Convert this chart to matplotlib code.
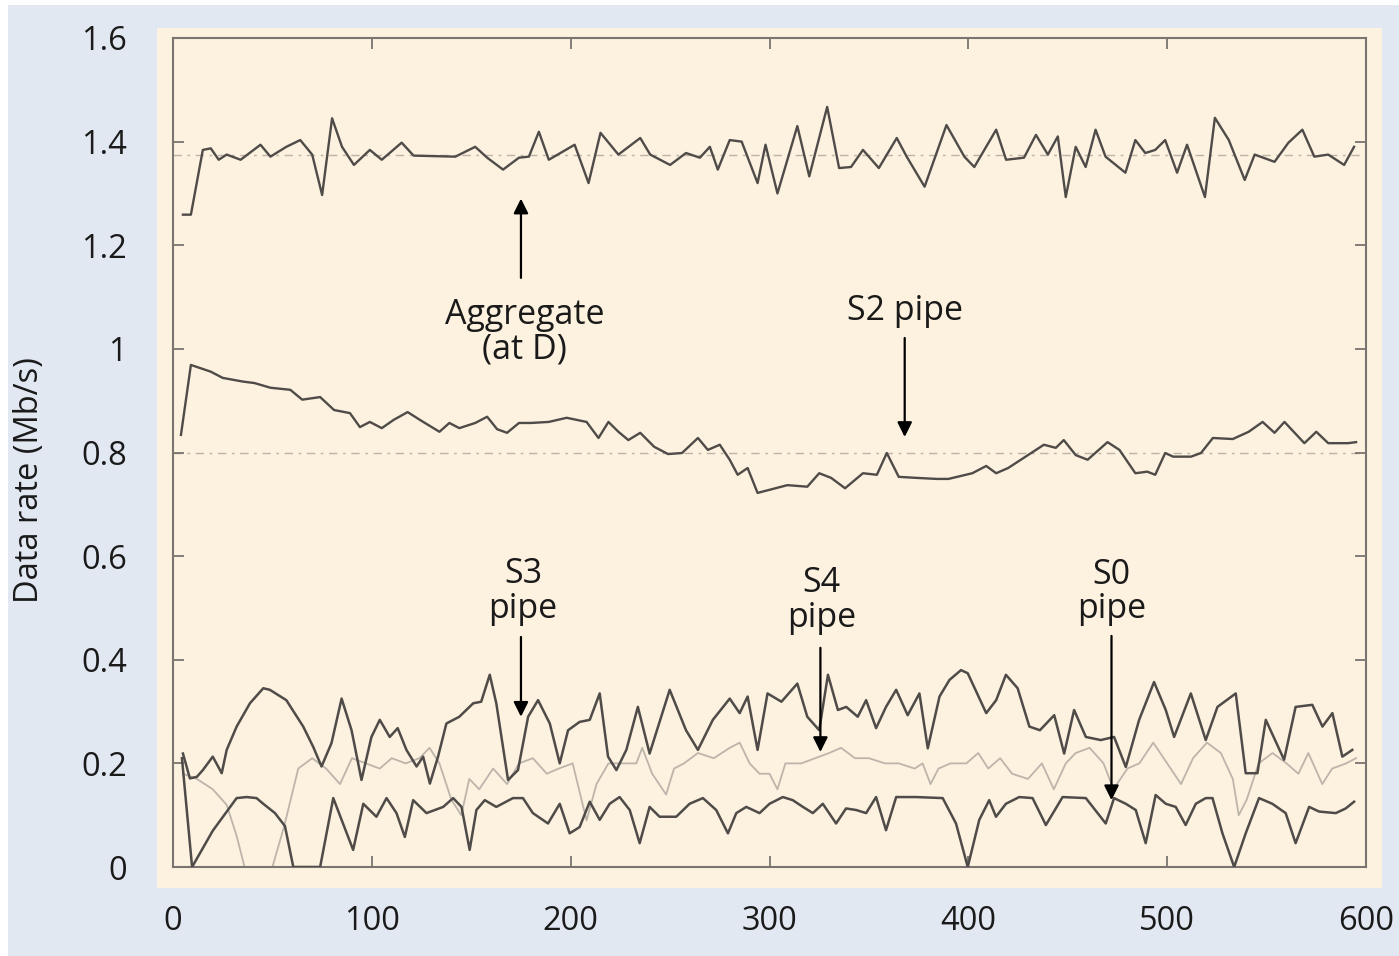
import matplotlib
matplotlib.use("Agg")
import matplotlib.pyplot as plt
from matplotlib.patches import Rectangle

# data
agg_x = [5, 9, 15, 19, 23, 27, 34, 44, 49, 57, 64, 70, 75, 80, 85, 91, 99, 105, 115, 121,
         142, 152, 158, 166, 174, 179, 184, 189, 202, 209, 215, 224, 235, 240, 250, 258,
         265, 270, 274, 280, 286, 294, 298, 304, 314, 320, 329, 335, 341, 347, 355, 364,
         369, 378, 389, 398, 403, 414, 419, 428, 434, 440, 445, 449, 454, 459, 464, 469,
         479, 484, 489, 494, 499, 505, 510, 519, 524, 531, 539, 544, 554, 561, 568, 574,
         581, 589, 594]
agg_y = [1.259, 1.259, 1.384, 1.387, 1.365, 1.375, 1.365, 1.394, 1.371, 1.39, 1.403, 1.375,
         1.297, 1.445, 1.39, 1.355, 1.384, 1.365, 1.398, 1.373, 1.371, 1.39, 1.369, 1.346,
         1.369, 1.371, 1.419, 1.365, 1.394, 1.32, 1.417, 1.375, 1.407, 1.375, 1.355, 1.378,
         1.369, 1.39, 1.346, 1.403, 1.40, 1.32, 1.394, 1.30, 1.43, 1.333, 1.467, 1.349,
         1.351, 1.384, 1.349, 1.407, 1.371, 1.313, 1.432, 1.371, 1.351, 1.423, 1.365, 1.369,
         1.413, 1.375, 1.41, 1.293, 1.39, 1.351, 1.423, 1.371, 1.34, 1.403, 1.378, 1.384,
         1.403, 1.34, 1.394, 1.293, 1.446, 1.403, 1.326, 1.375, 1.361, 1.398, 1.423, 1.371,
         1.375, 1.355, 1.39]

s2_x = [4, 9, 19, 25, 35, 41, 49, 59, 65, 74, 81, 89, 94, 99, 105, 111, 118, 125, 134, 139,
        144, 152, 158, 163, 168, 174, 180, 189, 198, 208, 214, 219, 224, 229, 235, 242, 249,
        256, 264, 269, 275, 280, 284, 289, 294, 303, 309, 319, 325, 331, 338, 347, 354, 359,
        365, 374, 384, 390, 402, 409, 414, 420, 430, 438, 444, 448, 454, 460, 470, 476, 484,
        490, 494, 499, 503, 512, 517, 523, 533, 541, 548, 554, 559, 569, 575, 581, 591, 595]
s2_y = [0.834, 0.969, 0.956, 0.944, 0.937, 0.934, 0.925, 0.921, 0.902, 0.907, 0.882, 0.876,
        0.849, 0.859, 0.847, 0.863, 0.878, 0.861, 0.840, 0.857, 0.847, 0.857, 0.869, 0.845,
        0.838, 0.857, 0.857, 0.859, 0.867, 0.859, 0.828, 0.859, 0.840, 0.824, 0.838, 0.811,
        0.797, 0.799, 0.828, 0.805, 0.815, 0.786, 0.757, 0.770, 0.722, 0.731, 0.737, 0.734,
        0.760, 0.751, 0.731, 0.760, 0.757, 0.799, 0.753, 0.751, 0.749, 0.749, 0.760, 0.774,
        0.760, 0.770, 0.795, 0.815, 0.809, 0.824, 0.795, 0.786, 0.820, 0.805, 0.760, 0.763,
        0.757, 0.799, 0.792, 0.792, 0.799, 0.828, 0.826, 0.840, 0.859, 0.838, 0.859, 0.818,
        0.840, 0.818, 0.818, 0.82]

s3_x = [5, 8.5, 12, 15, 20, 24.5, 27, 32, 38.7, 45.4, 48.7, 57, 65.5, 70.5, 74.7, 79.7, 84.8,
        89.8, 94.8, 99.8, 104, 109, 113, 117.4, 122.5, 125.8, 129.2, 133.3, 137.5, 144, 151,
        155, 159.3, 162.6, 168.5, 173.5, 178.6, 183.6, 189.5, 194.5, 198.7, 204.5, 209.6,
        214.6, 218.8, 223, 228, 233.8, 239.7, 249.8, 258, 264, 271.5, 280, 285, 289, 294,
        299, 306, 314, 319, 325, 329.4, 334.4, 338.6, 344.4, 348.6, 353.6, 358.6, 363.7,
        369.5, 375.4, 379.6, 385.5, 390.5, 396.3, 399.7, 409, 414, 418.9, 424.8, 430.7, 436,
        443.2, 448.2, 453.2, 459.1, 466.6, 473.3, 479.2, 485.9, 493.4, 499.3, 503.5, 511.9,
        519.4, 525.3, 534.5, 539.5, 545.4, 549.6, 558.8, 564.6, 573, 578.1, 583.1, 588.1, 593.1]
s3_y = [0.219, 0.171, 0.174, 0.187, 0.213, 0.181, 0.226, 0.271, 0.316, 0.345, 0.342, 0.322,
        0.271, 0.232, 0.194, 0.239, 0.325, 0.264, 0.168, 0.251, 0.284, 0.251, 0.268, 0.226,
        0.194, 0.213, 0.161, 0.213, 0.277, 0.290, 0.316, 0.319, 0.371, 0.316, 0.168, 0.187,
        0.290, 0.322, 0.277, 0.2, 0.264, 0.280, 0.284, 0.335, 0.213, 0.187, 0.226, 0.309,
        0.219, 0.342, 0.264, 0.226, 0.284, 0.325, 0.297, 0.329, 0.226, 0.335, 0.319, 0.354,
        0.290, 0.264, 0.371, 0.303, 0.309, 0.290, 0.322, 0.268, 0.309, 0.342, 0.293, 0.335,
        0.229, 0.329, 0.361, 0.380, 0.374, 0.297, 0.322, 0.371, 0.345, 0.271, 0.264, 0.293,
        0.219, 0.303, 0.251, 0.245, 0.251, 0.193, 0.284, 0.357, 0.303, 0.251, 0.335, 0.245,
        0.309, 0.335, 0.181, 0.181, 0.284, 0.207, 0.309, 0.313, 0.271, 0.297, 0.213, 0.226]

s0_x = [4.5, 9.6, 20, 32, 37, 42, 45.4, 51.3, 56.3, 60.5, 74, 80.6, 90.6, 95.7, 102.3, 107.4,
        112.4, 116.6, 120.8, 127.5, 135.9, 140.9, 145.1, 149.2, 152.6, 156.8, 162.6, 171, 176,
        181, 188.6, 194.5, 199.5, 204.5, 209.6, 214.6, 219.6, 224.6, 229.7, 234.7, 239.7,
        244.7, 253.1, 259.8, 266.5, 273.2, 279.1, 283.3, 288.3, 295, 300, 306.7, 311.7, 316.8,
        321.8, 326.8, 333.5, 338.5, 343.6, 348.6, 353.6, 358.6, 363.7, 373.7, 387.1, 393.8,
        399.7, 405.5, 410.5, 413.9, 418.9, 425.6, 432.3, 439, 447.4, 459.1, 469.1, 473.3,
        479.2, 484.2, 489.2, 494.2, 499.3, 504.3, 509.3, 514.4, 519.4, 522.8, 527.8, 533.7,
        539.5, 546.2, 552.9, 559.6, 564.6, 571.4, 576.4, 584.8, 589.8, 594]
s0_y = [0.21, 0.0, 0.07, 0.133, 0.135, 0.133, 0.122, 0.104, 0.079, 0.0, 0.0, 0.133, 0.033,
        0.122, 0.097, 0.133, 0.104, 0.058, 0.129, 0.104, 0.116, 0.133, 0.116, 0.033, 0.110,
        0.129, 0.116, 0.133, 0.133, 0.104, 0.084, 0.122, 0.065, 0.077, 0.126, 0.091, 0.122,
        0.135, 0.110, 0.046, 0.116, 0.097, 0.097, 0.122, 0.133, 0.110, 0.065, 0.104, 0.116,
        0.104, 0.122, 0.135, 0.129, 0.116, 0.104, 0.122, 0.084, 0.113, 0.110, 0.104, 0.135,
        0.071, 0.135, 0.135, 0.133, 0.084, 0.0, 0.091, 0.129, 0.097, 0.122, 0.135, 0.133,
        0.081, 0.135, 0.133, 0.084, 0.133, 0.122, 0.110, 0.046, 0.139, 0.122, 0.116, 0.081,
        0.122, 0.133, 0.133, 0.065, 0.0, 0.065, 0.133, 0.122, 0.104, 0.046, 0.116, 0.107,
        0.104, 0.113, 0.126]

s4_x = [5, 12, 20, 27, 32, 36, 50, 56, 63, 70, 77, 84, 90, 97, 104, 110, 117, 124, 129, 134,
        140, 145, 149, 154, 161, 168, 174, 181, 188, 194, 201, 208, 213, 219, 226, 233, 236,
        241, 248, 252, 257, 264, 272, 280, 285, 290, 295, 300, 304, 308, 316, 323, 330, 336,
        343, 350, 358, 365, 373, 377, 381, 385, 391, 399, 405, 410, 416, 422, 430, 437, 443,
        449, 454, 461, 468, 473, 480, 486, 493, 500, 507, 513, 520, 527, 533, 536, 540, 546,
        553, 560, 566, 571, 578, 583, 590, 595]
s4_y = [0.18, 0.17, 0.15, 0.12, 0.06, 0.0, 0.0, 0.08, 0.19, 0.21, 0.19, 0.16, 0.21, 0.2, 0.19,
        0.21, 0.2, 0.21, 0.23, 0.2, 0.13, 0.1, 0.17, 0.15, 0.19, 0.16, 0.2, 0.21, 0.18, 0.19,
        0.2, 0.09, 0.16, 0.2, 0.2, 0.2, 0.23, 0.18, 0.14, 0.19, 0.2, 0.22, 0.21, 0.23, 0.24,
        0.2, 0.18, 0.18, 0.15, 0.2, 0.2, 0.21, 0.22, 0.23, 0.21, 0.21, 0.2, 0.2, 0.19, 0.2,
        0.16, 0.19, 0.2, 0.2, 0.22, 0.19, 0.21, 0.18, 0.17, 0.2, 0.15, 0.2, 0.22, 0.23, 0.2,
        0.15, 0.19, 0.2, 0.24, 0.2, 0.16, 0.21, 0.24, 0.22, 0.17, 0.1, 0.13, 0.2, 0.22, 0.2,
        0.18, 0.22, 0.16, 0.19, 0.2, 0.21]

ref_levels = [1.375, 0.8]
y_ticks = [0, 0.2, 0.4, 0.6, 0.8, 1.0, 1.2, 1.4, 1.6]
y_tick_labels = ["0", "0.2", "0.4", "0.6", "0.8", "1", "1.2", "1.4", "1.6"]
x_ticks = [0, 100, 200, 300, 400, 500, 600]

W, H = 1399, 956
plt.rcParams['font.family'] = ['Open Sans', 'DejaVu Sans']

fig = plt.figure(figsize=(W / 100, H / 100), dpi=100, facecolor='white')
# blue background and cream panel
fig.patches.append(Rectangle((8 / W, 0), 1 - 8 / W, 1 - 5 / H, transform=fig.transFigure,
                             facecolor='#e2e8f2', edgecolor='none', zorder=-3))
fig.patches.append(Rectangle((157 / W, 1 - 888 / H), (1382 - 157) / W, (888 - 28) / H,
                             transform=fig.transFigure, facecolor='#fdf1df',
                             edgecolor='none', zorder=-2))

ax = fig.add_axes([173 / W, 1 - 867 / H, (1366 - 173) / W, (867 - 38) / H])
ax.set_facecolor('#fdf1df')

for lv in ref_levels:
    ax.axhline(lv, color='#bdb4a8', lw=1.0, ls=(0, (6, 4, 2, 4)), zorder=1)

dark = '#4e4b48'
ax.plot(s4_x, s4_y, color='#bdb5ac', lw=1.3, zorder=2)
ax.plot(agg_x, agg_y, color=dark, lw=1.7, zorder=3)
ax.plot(s2_x, s2_y, color=dark, lw=1.7, zorder=3)
ax.plot(s3_x, s3_y, color=dark, lw=1.8, zorder=3)
ax.plot(s0_x, s0_y, color=dark, lw=1.8, zorder=3)

ax.set_xlim(0, 600)
ax.set_ylim(0, 1.6)
ax.set_xticks(x_ticks)
ax.set_yticks(y_ticks)
ax.set_yticklabels(y_tick_labels)
ax.tick_params(direction='in', length=8, width=1.2, color='#6f6a66',
               top=True, right=True, labelsize=23.5, labelcolor='#1a1a1a')
ax.tick_params(axis='x', pad=27)
ax.tick_params(axis='y', pad=33)
for sp in ax.spines.values():
    sp.set_color('#7a7570')
    sp.set_linewidth(1.5)

fig.text(30 / W, 1 - 480 / H, 'Data rate (Mb/s)', rotation=90, ha='center', va='center',
         fontsize=23.5, color='#1a1a1a')

arrow = dict(arrowstyle='-|>', color='black', lw=1.6, mutation_scale=22, shrinkA=0, shrinkB=0)
txt = dict(fontsize=24.5, color='#1a1a1a', ha='center', va='center', linespacing=1.02)

ax.annotate('', xy=(175, 1.29), xytext=(175, 1.137), arrowprops=arrow)
ax.text(177, 1.033, 'Aggregate\n(at D)', **txt)

ax.annotate('', xy=(368, 0.83), xytext=(368, 1.021), arrowprops=arrow)
ax.text(368, 1.073, 'S2 pipe', **txt)

ax.annotate('', xy=(175, 0.29), xytext=(175, 0.444), arrowprops=arrow)
ax.text(176, 0.532, 'S3\npipe', **txt)

ax.annotate('', xy=(325.6, 0.222), xytext=(325.6, 0.423), arrowprops=arrow)
ax.text(326, 0.514, 'S4\npipe', **txt)

ax.annotate('', xy=(472, 0.129), xytext=(472, 0.446), arrowprops=arrow)
ax.text(472, 0.531, 'S0\npipe', **txt)

fig.savefig('out.png', dpi=100, facecolor=fig.get_facecolor())
